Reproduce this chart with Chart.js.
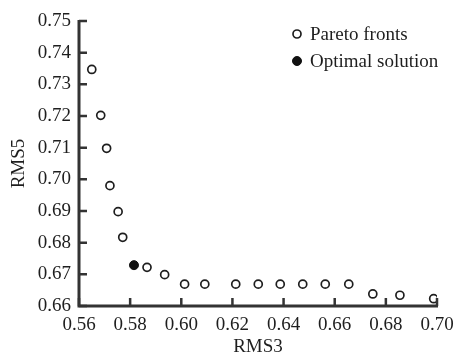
<!DOCTYPE html>
<html>
<head>
<meta charset="utf-8">
<script src="https://cdn.jsdelivr.net/npm/chart.js@4.4.1/dist/chart.umd.min.js"></script>
<style>
  html, body { margin: 0; padding: 0; background: #fff; }
  #wrap { width: 454px; height: 358px; }
</style>
</head>
<body>
<div id="wrap"><canvas id="c"></canvas></div>
<script>
// RMS3 / RMS5 of the pareto front
const paretoX = [0.5650, 0.5685, 0.5708, 0.5721, 0.5753, 0.5771, 0.5866, 0.5935, 0.6013, 0.6092,
                 0.6213, 0.6301, 0.6387, 0.6475, 0.6563, 0.6655, 0.6749, 0.6855, 0.6987];
const paretoY = [0.7347, 0.7202, 0.7098, 0.6980, 0.6898, 0.6817, 0.6722, 0.6699, 0.6669, 0.6669,
                 0.6669, 0.6669, 0.6669, 0.6669, 0.6669, 0.6669, 0.6638, 0.6634, 0.6623];
const optimalX = [0.5815];
const optimalY = [0.6729];

const xTicks = [0.56, 0.58, 0.60, 0.62, 0.64, 0.66, 0.68, 0.70];
const yTicks = [0.66, 0.67, 0.68, 0.69, 0.70, 0.71, 0.72, 0.73, 0.74, 0.75];

const seriesNames = ['Pareto fronts', 'Optimal solution'];

const ink = '#1e1e1e';
const axisInk = '#333333';
const font = { family: '"Liberation Serif", "Times New Roman", serif', size: 19 };

const toPoints = (xs, ys) => xs.map((x, i) => ({ x: x, y: ys[i] }));

// axis lines and ticks pointing into the plot
const innerAxes = {
  id: 'innerAxes',
  afterDraw(chart) {
    const ctx = chart.ctx;
    const xs = chart.scales.x, ys = chart.scales.y;
    const area = chart.chartArea;
    ctx.save();
    ctx.strokeStyle = axisInk;
    ctx.lineWidth = 3;
    ctx.beginPath();
    ctx.moveTo(area.left, area.top - 1);
    ctx.lineTo(area.left, area.bottom);
    ctx.lineTo(area.right + 1, area.bottom);
    ctx.stroke();
    ctx.lineWidth = 2.5;
    ctx.beginPath();
    xTicks.forEach(v => {
      const px = xs.getPixelForValue(v);
      ctx.moveTo(px, area.bottom);
      ctx.lineTo(px, area.bottom - 8);
    });
    yTicks.forEach(v => {
      const py = ys.getPixelForValue(v);
      ctx.moveTo(area.left, py);
      ctx.lineTo(area.left + 8, py);
    });
    ctx.stroke();
    ctx.restore();
  }
};

// legend in the upper right corner of the plot
const cornerLegend = {
  id: 'cornerLegend',
  afterDraw(chart) {
    const ctx = chart.ctx;
    const lx = 297, ly = 34, gap = 27;
    ctx.save();
    ctx.font = font.size + 'px ' + font.family;
    ctx.textBaseline = 'middle';
    chart.data.datasets.forEach((ds, i) => {
      const y = ly + i * gap;
      ctx.beginPath();
      ctx.arc(lx, y, ds.pointRadius, 0, Math.PI * 2);
      ctx.fillStyle = ds.pointBackgroundColor;
      ctx.fill();
      ctx.lineWidth = ds.pointBorderWidth;
      ctx.strokeStyle = ds.pointBorderColor;
      ctx.stroke();
      ctx.fillStyle = ink;
      ctx.fillText(ds.label, lx + 13, y + 1);
    });
    ctx.restore();
  }
};

new Chart(document.getElementById('c'), {
  type: 'scatter',
  data: {
    datasets: [
      {
        label: seriesNames[0],
        data: toPoints(paretoX, paretoY),
        pointRadius: 4,
        pointBorderWidth: 1.7,
        pointBorderColor: ink,
        pointBackgroundColor: '#ffffff'
      },
      {
        label: seriesNames[1],
        data: toPoints(optimalX, optimalY),
        pointRadius: 4.5,
        pointBorderWidth: 1,
        pointBorderColor: '#111',
        pointBackgroundColor: '#111'
      }
    ]
  },
  options: {
    responsive: true,
    maintainAspectRatio: false,
    animation: false,
    layout: { padding: { left: 8, right: 17, top: 21, bottom: 0 } },
    plugins: {
      legend: { display: false },
      tooltip: { enabled: false }
    },
    scales: {
      x: {
        type: 'linear',
        min: 0.56,
        max: 0.70,
        afterBuildTicks: s => { s.ticks = xTicks.map(v => ({ value: v })); },
        afterFit: s => { s.height = 52; s.paddingLeft = 0; s.paddingRight = 0; },
        grid: { display: false, drawTicks: false },
        border: { display: false },
        ticks: {
          color: ink,
          font: font,
          padding: 8,
          maxRotation: 0,
          callback: v => v.toFixed(2)
        },
        title: { display: true, text: 'RMS3', color: ink, font: font, padding: 0 }
      },
      y: {
        type: 'linear',
        min: 0.66,
        max: 0.75,
        afterBuildTicks: s => { s.ticks = yTicks.map(v => ({ value: v })); },
        afterFit: s => { s.width = 71; s.paddingTop = 0; s.paddingBottom = 0; },
        grid: { display: false, drawTicks: false },
        border: { display: false },
        ticks: {
          color: ink,
          font: font,
          padding: 8,
          callback: v => v.toFixed(2)
        },
        title: { display: true, text: 'RMS5', color: ink, font: font, padding: 0 }
      }
    }
  },
  plugins: [innerAxes, cornerLegend]
});
</script>
</body>
</html>
